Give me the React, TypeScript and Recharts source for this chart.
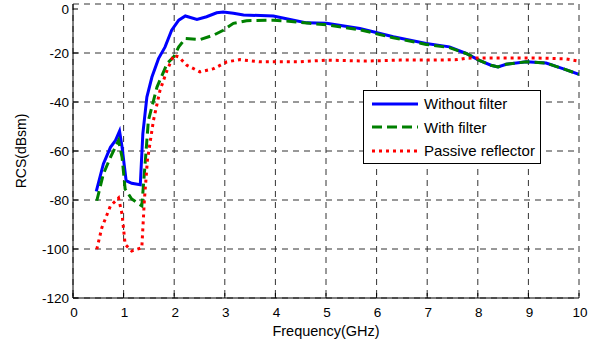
import { LineChart, Line, XAxis, YAxis, CartesianGrid } from "recharts";

// RCS vs frequency for the three configurations
const freqNoFilter = [0.46, 0.6, 0.74, 0.84, 0.92, 0.97, 1.05, 1.16, 1.33, 1.38, 1.46, 1.56, 1.69, 1.82, 1.95, 2.09, 2.22, 2.45, 2.64, 2.84, 2.97, 3.17, 3.37, 3.96, 4.36, 4.62, 5.01, 5.67, 6.33, 6.98, 7.44, 7.77, 8.03, 8.26, 8.4, 8.56, 8.96, 9.35, 9.68, 10];
const rcsNoFilter = [-76.5, -65.3, -58.5, -55.7, -51.9, -58.5, -72.1, -73.2, -73.8, -53, -38, -29.8, -22.3, -17.5, -10.7, -6.6, -4.9, -6.3, -5.2, -3.6, -3.3, -3.8, -4.5, -4.9, -6.6, -7.7, -7.9, -10, -13.4, -16.1, -17.5, -20.2, -23, -25, -25.7, -24.6, -23.6, -24.1, -26.4, -28.7];

const freqFilter = [0.47, 0.6, 0.74, 0.9, 0.97, 1.03, 1.16, 1.36, 1.43, 1.49, 1.66, 1.86, 1.99, 2.09, 2.22, 2.51, 2.78, 2.97, 3.17, 3.43, 3.96, 4.36, 4.68, 5.01, 5.67, 6.33, 6.98, 7.44, 7.77, 8.03, 8.26, 8.4, 8.56, 8.96, 9.35, 9.68, 10];
const rcsFilter = [-80.3, -69.4, -62.6, -55.7, -62.6, -75.5, -79.6, -82.4, -63.9, -47.5, -33.9, -24.3, -21.6, -17.5, -14.1, -14.5, -12.7, -10.7, -7.9, -6.8, -6.6, -7.2, -7.9, -8.5, -10.5, -13.8, -16.5, -17.8, -20.2, -23, -25, -25.7, -24.6, -23.6, -24.1, -26.4, -28.7];

const freqPassive = [0.47, 0.57, 0.74, 0.9, 0.97, 1.03, 1.16, 1.36, 1.41, 1.47, 1.59, 1.72, 1.86, 1.99, 2.09, 2.25, 2.51, 2.78, 3.04, 3.3, 3.7, 4.48, 5.01, 5.8, 6.46, 7.11, 7.6, 7.77, 8.43, 9.09, 9.74, 10];
const rcsPassive = [-100.1, -91.3, -82.4, -79.2, -85.8, -98.1, -100.8, -99.5, -80.3, -63.9, -47.5, -35.2, -27, -20.9, -21.6, -25, -27.7, -26.4, -23.6, -22.7, -23.6, -23.6, -22.9, -23.3, -22.9, -22.9, -22.7, -22.1, -22, -22, -22.4, -23.3];

const xTicks = [0, 1, 2, 3, 4, 5, 6, 7, 8, 9, 10];
const yTicks = [-120, -100, -80, -60, -40, -20, 0];

const series = [
  { name: "Without filter", color: "#0000ff", dash: undefined as string | undefined, freq: freqNoFilter, rcs: rcsNoFilter },
  { name: "With filter", color: "#008000", dash: "10 5", freq: freqFilter, rcs: rcsFilter },
  { name: "Passive reflector", color: "#ff0000", dash: "3 4", freq: freqPassive, rcs: rcsPassive },
];

const FONT = "'Liberation Sans', Arial, sans-serif";
const TICK = 5;

const BottomTick = (props: any) => {
  const { x, y, payload } = props;
  return (
    <g>
      <line x1={x} y1={y} x2={x} y2={y - TICK} stroke="#000" />
      <text x={x + 1} y={y + 19} textAnchor="middle" fontSize={13.5} fontFamily={FONT} fill="#000">
        {payload.value}
      </text>
    </g>
  );
};

const LeftTick = (props: any) => {
  const { x, y, payload } = props;
  return (
    <g>
      <line x1={x} y1={y} x2={x + TICK} y2={y} stroke="#000" />
      <text x={x - 4} y={y + 5} textAnchor="end" fontSize={13.5} fontFamily={FONT} fill="#000">
        {payload.value}
      </text>
    </g>
  );
};

const TopTick = (props: any) => (
  <line x1={props.x} y1={props.y} x2={props.x} y2={props.y + TICK} stroke="#000" />
);

const RightTick = (props: any) => (
  <line x1={props.x} y1={props.y} x2={props.x - TICK} y2={props.y} stroke="#000" />
);

const LegendBox = () => (
  <div
    style={{
      position: "absolute",
      left: 363,
      top: 90,
      width: 178,
      height: 74,
      boxSizing: "border-box",
      border: "1px solid #000",
      background: "#fff",
      padding: "1px 0 0 8px",
      fontFamily: FONT,
      fontSize: 15,
      lineHeight: "23.5px",
    }}
  >
    {series.map((s) => (
      <div key={s.name} style={{ display: "flex", alignItems: "center", whiteSpace: "nowrap" }}>
        <svg width={46} height={10} style={{ marginRight: 6 }}>
          <line x1={0} y1={5} x2={46} y2={5} stroke={s.color} strokeWidth={3} strokeDasharray={s.dash} />
        </svg>
        {s.name}
      </div>
    ))}
  </div>
);

export default function App() {
  return (
    <div style={{ position: "absolute", left: 0, top: 0, width: 611, height: 341, background: "#fff" }}>
      <LineChart width={611} height={341} margin={{ top: 4, right: 32, bottom: 0, left: 0 }}>
        <CartesianGrid xAxisId="b" yAxisId="l" stroke="#333" strokeDasharray="6 5" />
        <XAxis
          xAxisId="b"
          type="number"
          dataKey="f"
          domain={[0, 10]}
          ticks={xTicks}
          allowDataOverflow
          height={43}
          tickSize={0}
          tickMargin={0}
          tickLine={false}
          axisLine={{ stroke: "#000" }}
          tick={BottomTick}
          label={{ value: "Frequency(GHz)", position: "center", dy: 11, fontSize: 14.5, fontFamily: FONT, fill: "#000" }}
        />
        <XAxis
          xAxisId="t"
          orientation="top"
          type="number"
          dataKey="f"
          domain={[0, 10]}
          ticks={xTicks}
          allowDataOverflow
          height={0}
          tickSize={0}
          tickMargin={0}
          tickLine={false}
          axisLine={{ stroke: "#000" }}
          tick={TopTick}
        />
        <YAxis
          yAxisId="l"
          type="number"
          domain={[-120, 0]}
          ticks={yTicks}
          allowDataOverflow
          width={73}
          tickSize={0}
          tickMargin={0}
          tickLine={false}
          axisLine={{ stroke: "#000" }}
          tick={LeftTick}
          label={{ value: "RCS(dBsm)", angle: -90, position: "center", dx: -15, fontSize: 14, fontFamily: FONT, fill: "#000" }}
        />
        <YAxis
          yAxisId="r"
          orientation="right"
          type="number"
          domain={[-120, 0]}
          ticks={yTicks}
          allowDataOverflow
          width={0}
          tickSize={0}
          tickMargin={0}
          tickLine={false}
          axisLine={{ stroke: "#000" }}
          tick={RightTick}
        />
        {series.map((s) => (
          <Line
            key={s.name}
            xAxisId="b"
            yAxisId="l"
            name={s.name}
            data={s.freq.map((f, i) => ({ f, v: s.rcs[i] }))}
            dataKey="v"
            type="linear"
            stroke={s.color}
            strokeWidth={3}
            strokeDasharray={s.dash}
            dot={false}
            activeDot={false}
            isAnimationActive={false}
          />
        ))}
      </LineChart>
      <LegendBox />
    </div>
  );
}
